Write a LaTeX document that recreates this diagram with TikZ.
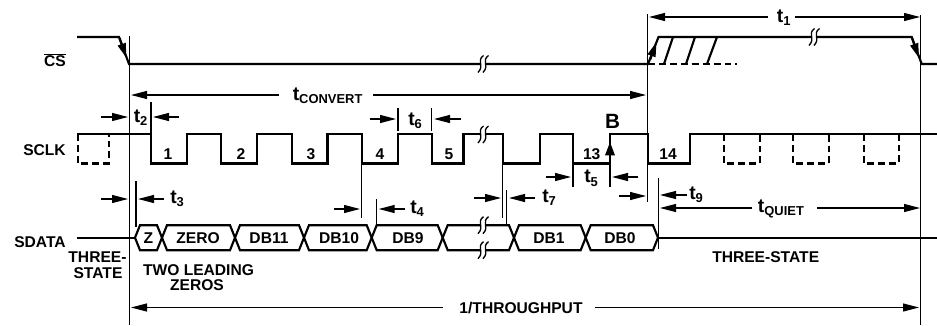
\documentclass[tikz,border=0pt]{standalone}
\usepackage{fontspec}
\setmainfont{Liberation Sans}
\usetikzlibrary{arrows.meta}
\newcommand{\tsb}[1]{t\raisebox{-0.2em}{\fontsize{9.7}{10}\selectfont #1}}
\tikzset{
  sig/.style={line width=1.6pt,line join=miter},
  dsh/.style={line width=1.6pt,dash pattern=on 5.2pt off 3pt},
  thinl/.style={line width=.85pt},
  dim/.style={line width=.85pt,-{Triangle[length=12pt,width=6pt]}},
  lab/.style={font=\fontsize{11.7}{13}\selectfont\bfseries,anchor=base,yshift=-4.2pt,inner sep=0pt},
  tl/.style={font=\fontsize{14.5}{15}\selectfont\bfseries,anchor=base west,inner sep=0pt},
  brk/.pic={
    \fill[white] (-2,-7) rectangle (2,7);
    \draw[line width=1pt] (.5,-8.5) .. controls (-7,-3) and (2,1) .. (-5,8.5);
    \draw[line width=1pt] (5.5,-8.5) .. controls (-2,-3) and (7,1) .. (0,8.5);
  }
}
\newcommand{\cell}[2]{\draw[sig] (#1,237.7) -- ++(5,-12.5) -- (#2-5,225.2) -- (#2,237.7) -- (#2-5,250.2) -- (#1+5,250.2) -- cycle;}
\begin{document}
\begin{tikzpicture}[x=.75pt,y=-.75pt]
\useasboundingbox (0,0) rectangle (937,325);
% long verticals
\draw[thinl] (129.5,36) -- (129.5,325);
\draw[thinl] (647.7,14) -- (647.7,202);
\draw[thinl] (920.7,15) -- (920.7,325);
\draw[thinl] (658.3,178) -- (658.3,249);
% CS
\draw[sig] (77,37) -- (119,37) -- (129,64) -- (648,64) -- (658.5,37) -- (911.7,37) -- (921.7,64) -- (937,64);
\draw[sig] (664,64) -- (673,37) (686,64) -- (695,37) (707,64) -- (717,37);
\draw[dsh] (648,64) -- (737,64);
\draw[sig,-{Triangle[length=11pt,width=6pt]}] (119.5,38) -- (126.5,58);
\draw[sig,-{Triangle[length=11pt,width=6pt]}] (650,60) -- (656.5,42);
\draw[sig,-{Triangle[length=11pt,width=6pt]}] (912,38) -- (919,58);
\pic at (483,64) {brk};
\pic at (814,37) {brk};
% SCLK
\draw[sig] (77,134) -- (151,134) |- (187,163.5) |- (221,134) |- (257,163.5) |- (292,134) |- (327.5,163.5) |- (361.7,134) |- (398,163.5) |- (431.7,134) |- (463.5,163.5) |- (502.7,134) |- (540,163.5) |- (573,134) |- (610,163.5) |- (648,134) |- (690,163.5) |- (937,134);
\draw[dsh] (78,134) -- (78,163.5) -- (109,163.5) -- (109,134);
\draw[dsh] (724,134) -- (724,163.5) -- (760,163.5) -- (760,134);
\draw[dsh] (793,134) -- (793,163.5) -- (829,163.5) -- (829,134);
\draw[dsh] (864,134) -- (864,163.5) -- (899,163.5) -- (899,134);
\pic at (483,134.5) {brk};
\draw[sig,-{Triangle[length=10pt,width=7pt]}] (610,163) -- (610,142);
% SDATA
\draw[sig] (77,237.7) -- (135,237.7);
\draw[sig] (658,237.7) -- (937,237.7);
\cell{135}{162}\cell{162}{235}\cell{235}{304}\cell{304}{371.7}\cell{371.7}{442.7}\cell{442.7}{514}\cell{514}{585.7}\cell{585.7}{658}
\pic at (483,225.2) {brk};
\pic at (483,250.2) {brk};
% drop lines
\draw[thinl] (361.7,163) -- (361.7,218) (502.7,163) -- (502.7,218) (573,163) -- (573,187) (610,163) -- (610,187);
\draw[thinl] (151,102) -- (151,134) (136,181) -- (136,227) (376.7,199) -- (376.7,224) (506.7,190) -- (506.7,224) (398,108) -- (398,131) (431.7,108) -- (431.7,131);
% dimension arrows
\draw[dim] (279,95) -- (131,95);
\draw[dim] (373,95) -- (646,95);
\draw[dim] (101,117) -- (128,117);
\draw[dim] (179,117) -- (153,117);
\draw[dim] (101,199) -- (128,199);
\draw[dim] (164,199) -- (138,199);
\draw[dim] (334,209) -- (360,209);
\draw[dim] (405,209) -- (378.7,209);
\draw[dim] (370,119) -- (396,119);
\draw[dim] (461,119) -- (434,119);
\draw[dim] (546,177) -- (571,177);
\draw[dim] (638,177) -- (612,177);
\draw[dim] (474,198) -- (501,198);
\draw[dim] (535,198) -- (509,198);
\draw[dim] (619,196) -- (646,196);
\draw[dim] (687,195) -- (660,195);
\draw[dim] (752,208) -- (660,208);
\draw[dim] (817,208) -- (920,208);
\draw[dim] (768,17) -- (649,17);
\draw[dim] (795,17) -- (920,17);
\draw[dim] (443,307.5) -- (131,307.5);
\draw[dim] (595,307.5) -- (919,307.5);
% labels
\node[lab,anchor=base east] (cs) at (66,61) {$\overline{\mbox{CS}}$};
\node[lab,anchor=base east] (sclk) at (66,150) {SCLK};
\node[lab,anchor=base east] (sdata) at (66,241.7) {SDATA};
\node[lab] (n1) at (168,154) {1};
\node[lab] (n2) at (241,154) {2};
\node[lab] (n3) at (311,154) {3};
\node[lab] (n4) at (380,154) {4};
\node[lab] (n5) at (449,154) {5};
\node[lab] (n13) at (591.7,154) {13};
\node[lab] (n14) at (668,154) {14};
\node[lab] (dz) at (148.5,238) {Z};
\node[lab] (dzero) at (198,238) {ZERO};
\node[lab] (d11) at (269,238) {DB11};
\node[lab] (d10) at (339,238) {DB10};
\node[lab] (d9) at (408,238) {DB9};
\node[lab] (d1) at (549,238) {DB1};
\node[lab] (d0) at (620,238) {DB0};
\node[lab] (ts1) at (97.5,257) {THREE-};
\node[lab] (ts2) at (98,273) {STATE};
\node[lab] (two) at (198.5,270) {TWO LEADING};
\node[lab] (zeros) at (197,285) {ZEROS};
\node[lab] (ts3) at (765.7,257) {THREE-STATE};
\node[lab] (thr) at (521,308) {1/THROUGHPUT};
\node[anchor=base,inner sep=0pt,font=\fontsize{15.5}{16}\selectfont\bfseries] (b) at (612.7,128) {B};
\node[tl] (t1) at (776.7,22) {\tsb{1}};
\node[tl] (t2) at (133.5,122) {\tsb{2}};
\node[tl] (t3) at (170,203) {\tsb{3}};
\node[tl] (t4) at (410,213) {\tsb{4}};
\node[tl] (t5) at (584,182.7) {\tsb{5}};
\node[tl] (t6) at (408,125) {\tsb{6}};
\node[tl] (t7) at (542,202) {\tsb{7}};
\node[tl] (t9) at (689,199) {\tsb{9}};
\node[tl] (tc) at (292.5,100) {\tsb{CONVERT}};
\node[tl] (tq) at (757.7,212) {\tsb{QUIET}};
\end{tikzpicture}
\end{document}
